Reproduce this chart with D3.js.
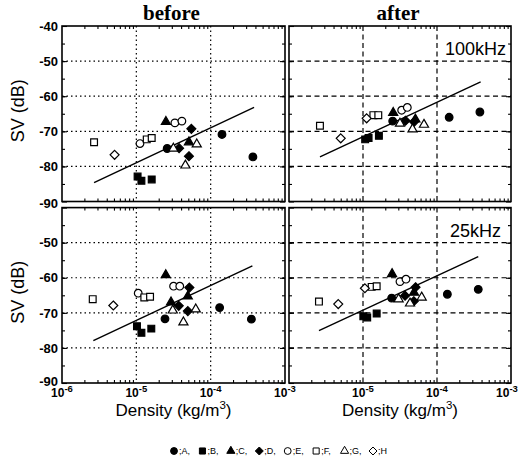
<!DOCTYPE html>
<html>
<head>
<meta charset="utf-8">
<script src="https://cdn.jsdelivr.net/npm/d3@7"></script>
<style>
  body { margin: 0; background: #fff; }
  svg { display: block; }
</style>
</head>
<body>
<svg id="chart"></svg>
<script>
// series names and their markers
const seriesNames = ["A", "B", "C", "D", "E", "F", "G", "H"];
const seriesShapes = ["circle", "square", "triangle", "diamond", "circle", "square", "triangle", "diamond"];
const seriesFilled = [true, true, true, true, false, false, false, false];

// [series, density (kg/m3), SV (dB)]
const before100 = [
    ["A", 2.6e-5, -74.9], ["A", 1.42e-4, -70.9], ["A", 3.7e-4, -77.3],
    ["B", 1.04e-5, -82.9], ["B", 1.17e-5, -84.1], ["B", 1.61e-5, -83.7],
    ["C", 2.5e-5, -67.3], ["C", 5.1e-5, -73.1],
    ["D", 5.5e-5, -69.3], ["D", 3.76e-5, -74.8], ["D", 5.1e-5, -77.1],
    ["E", 1.12e-5, -73.5], ["E", 3.3e-5, -67.6], ["E", 4.1e-5, -67.1],
    ["F", 2.7e-6, -73.1], ["F", 1.38e-5, -72.3], ["F", 1.61e-5, -71.9],
    ["G", 3.15e-5, -74.9], ["G", 6.5e-5, -73.7], ["G", 4.57e-5, -79.7],
    ["H", 5.1e-6, -76.7]
];
const after100 = [
    ["A", 2.52e-5, -67.1], ["A", 1.46e-4, -66.0], ["A", 3.8e-4, -64.5],
    ["B", 1.07e-5, -72.3], ["B", 1.19e-5, -71.9], ["B", 1.64e-5, -71.3],
    ["C", 2.56e-5, -64.7], ["C", 5.1e-5, -66.6],
    ["D", 3.75e-5, -67.0], ["D", 4.9e-5, -67.3],
    ["E", 3.33e-5, -64.0], ["E", 3.97e-5, -63.2],
    ["F", 2.62e-6, -68.4], ["F", 1.38e-5, -65.4], ["F", 1.61e-5, -65.4],
    ["G", 3.16e-5, -67.8], ["G", 4.67e-5, -69.4], ["G", 6.67e-5, -68.1],
    ["H", 5.0e-6, -72.0], ["H", 1.12e-5, -66.3]
];
const before25 = [
    ["A", 2.43e-5, -71.7], ["A", 1.32e-4, -68.5], ["A", 3.53e-4, -71.8],
    ["B", 1.02e-5, -73.8], ["B", 1.17e-5, -75.7], ["B", 1.59e-5, -74.5],
    ["C", 2.49e-5, -59.2], ["C", 2.93e-5, -67.0], ["C", 4.92e-5, -65.3],
    ["D", 5.17e-5, -62.8], ["D", 3.72e-5, -68.0], ["D", 4.93e-5, -69.5],
    ["E", 1.06e-5, -64.4], ["E", 3.17e-5, -62.4], ["E", 3.84e-5, -62.4],
    ["F", 2.59e-6, -66.1], ["F", 1.28e-5, -65.6], ["F", 1.53e-5, -65.4],
    ["G", 3.09e-5, -69.3], ["G", 6.3e-5, -69.0], ["G", 4.3e-5, -72.7],
    ["H", 4.9e-6, -67.9]
];
const after25 = [
    ["A", 2.44e-5, -65.8], ["A", 1.38e-4, -64.7], ["A", 3.61e-4, -63.3],
    ["B", 1.01e-5, -71.0], ["B", 1.14e-5, -71.3], ["B", 1.53e-5, -70.2],
    ["C", 2.47e-5, -58.9], ["C", 4.89e-5, -64.2],
    ["D", 3.7e-5, -65.1], ["D", 5.13e-5, -62.7], ["D", 4.85e-5, -66.7],
    ["E", 3.16e-5, -61.1], ["E", 3.81e-5, -60.4],
    ["F", 2.54e-6, -66.8], ["F", 1.31e-5, -62.6], ["F", 1.53e-5, -62.4],
    ["G", 3.03e-5, -66.1], ["G", 6.21e-5, -65.6], ["G", 4.32e-5, -67.3],
    ["H", 4.63e-6, -67.5], ["H", 1.06e-5, -63.0]
];

// regression lines: two end points each
const fitBefore100 = [[2.7e-6, -84.6], [3.84e-4, -63.2]];
const fitAfter100 = [[2.62e-6, -77.3], [3.89e-4, -55.9]];
const fitBefore25 = [[2.64e-6, -77.9], [3.64e-4, -56.6]];
const fitAfter25 = [[2.54e-6, -75.1], [3.61e-4, -54.0]];

const yTicks = [-40, -50, -60, -70, -80, -90];
const yGrid = [-50, -60, -70, -80];
const xExps = [-6, -5, -4, -3];
const xGrid = [1e-5, 1e-4];
const panelTitles = ["before", "after"];
const freqLabels = ["100kHz", "25kHz"];

const width = 521;
const height = 466;
const cols = [[62, 285], [289, 511]];
const rows = [[26, 201.5], [207.6, 383]];

const svg = d3.select("#chart")
    .attr("width", width)
    .attr("height", height)
    .style("font-family", "'Liberation Sans', Arial, sans-serif");

// square diamond (d3's own diamond is too narrow)
const squareDiamond = {
    draw(context, size) {
        const r = Math.sqrt(size / 2);
        context.moveTo(0, -r);
        context.lineTo(r, 0);
        context.lineTo(0, r);
        context.lineTo(-r, 0);
        context.closePath();
    }
};
const symbolType = {
    circle: d3.symbolCircle,
    square: d3.symbolSquare,
    triangle: d3.symbolTriangle,
    diamond: squareDiamond
};
const symbolSize = { circle: 46, square: 46, triangle: 36, diamond: 40 };

const panels = [
    { data: before100, fit: fitBefore100, col: 0, row: 0 },
    { data: after100, fit: fitAfter100, col: 1, row: 0 },
    { data: before25, fit: fitBefore25, col: 0, row: 1 },
    { data: after25, fit: fitAfter25, col: 1, row: 1 }
];

const minorX = [];
for (let e = -6; e < -3; e++) {
    for (let m = 2; m <= 9; m++) minorX.push(m * Math.pow(10, e));
}
const minorY = d3.range(-85, -40, 5);

panels.forEach(p => {
    const [x0, x1] = cols[p.col];
    const [y0, y1] = rows[p.row];
    const x = d3.scaleLog().domain([1e-6, 1e-3]).range([x0, x1]);
    const y = d3.scaleLinear().domain([-90, -40]).range([y1, y0]);
    const g = svg.append("g");
    const dash = p.col === 0 ? "1.5,3" : "5,3.5";

    // grid
    g.selectAll(".gy").data(yGrid).enter().append("line")
        .attr("x1", x0).attr("x2", x1)
        .attr("y1", d => y(d)).attr("y2", d => y(d))
        .attr("stroke", "#000").attr("stroke-width", 1.2)
        .attr("stroke-dasharray", dash);
    g.selectAll(".gx").data(xGrid).enter().append("line")
        .attr("x1", d => x(d)).attr("x2", d => x(d))
        .attr("y1", y0).attr("y2", y1)
        .attr("stroke", "#000").attr("stroke-width", 1.2)
        .attr("stroke-dasharray", dash);

    // fit line
    g.append("path")
        .datum(p.fit)
        .attr("d", d3.line().x(d => x(d[0])).y(d => y(d[1])))
        .attr("fill", "none").attr("stroke", "#000").attr("stroke-width", 1.4);

    // markers
    g.selectAll(".pt").data(p.data).enter().append("path")
        .attr("transform", d => `translate(${x(d[1])},${y(d[2])})`)
        .attr("d", d => {
            const i = seriesNames.indexOf(d[0]);
            const s = seriesShapes[i];
            return d3.symbol().type(symbolType[s]).size(symbolSize[s])();
        })
        .attr("fill", d => seriesFilled[seriesNames.indexOf(d[0])] ? "#000" : "#fff")
        .attr("stroke", "#000")
        .attr("stroke-width", 1.2);

    // ticks on all four sides, pointing inward
    const tickStyle = sel => {
        sel.select(".domain").remove();
        sel.selectAll("line").attr("stroke", "#000").attr("stroke-width", 1.1);
        sel.selectAll("text").remove();
    };
    g.append("g").attr("transform", `translate(${x0},0)`)
        .call(d3.axisLeft(y).tickValues(yTicks).tickSize(-5)).call(tickStyle);
    g.append("g").attr("transform", `translate(${x0},0)`)
        .call(d3.axisLeft(y).tickValues(minorY).tickSize(-3)).call(tickStyle);
    g.append("g").attr("transform", `translate(${x1},0)`)
        .call(d3.axisRight(y).tickValues(yTicks).tickSize(-5)).call(tickStyle);
    g.append("g").attr("transform", `translate(${x1},0)`)
        .call(d3.axisRight(y).tickValues(minorY).tickSize(-3)).call(tickStyle);
    g.append("g").attr("transform", `translate(0,${y1})`)
        .call(d3.axisBottom(x).tickValues(minorX).tickSize(-3)).call(tickStyle);
    g.append("g").attr("transform", `translate(0,${y0})`)
        .call(d3.axisTop(x).tickValues(minorX).tickSize(-3)).call(tickStyle);

    // frame
    g.append("rect")
        .attr("x", x0).attr("y", y0)
        .attr("width", x1 - x0).attr("height", y1 - y0)
        .attr("fill", "none").attr("stroke", "#000").attr("stroke-width", 1.6);

    // y tick labels on left column
    if (p.col === 0) {
        const labels = p.row === 0 ? yTicks : yTicks.slice(1);
        g.selectAll(".yl").data(labels).enter().append("text")
            .attr("x", x0 - 4)
            .attr("y", d => y(d) + (d === -90 ? (p.row === 0 ? 2 : -2) : 0))
            .attr("dy", "0.36em")
            .attr("text-anchor", "end")
            .attr("font-size", 13).attr("font-weight", "bold")
            .text(d => d);
    }

    // x tick labels on bottom row
    if (p.row === 1) {
        const exps = p.col === 0 ? xExps : xExps.slice(1);
        const t = g.selectAll(".xl").data(exps).enter().append("text")
            .attr("x", d => x(Math.pow(10, d)) - (p.col === 1 && d === -3 ? 4 : 0))
            .attr("y", y1 + 14)
            .attr("text-anchor", "middle")
            .attr("font-size", 12).attr("font-weight", "bold");
        t.append("tspan").text("10");
        t.append("tspan").attr("dy", -5).attr("font-size", 9.5).text(d => "-" + Math.abs(d));

        const lab = g.append("text")
            .attr("x", (x0 + x1) / 2)
            .attr("y", y1 + 33)
            .attr("text-anchor", "middle")
            .attr("font-size", 17);
        lab.append("tspan").text("Density (kg/m");
        lab.append("tspan").attr("dy", -7).attr("font-size", 11.5).text("3");
        lab.append("tspan").attr("dy", 7).text(")");
    }

    // SV label
    if (p.col === 0) {
        g.append("text")
            .attr("transform", `translate(24,${(y0 + y1) / 2 - 3}) rotate(-90)`)
            .attr("text-anchor", "middle")
            .attr("font-size", 18)
            .text("SV (dB)");
    }

    // panel title
    if (p.row === 0) {
        g.append("text")
            .attr("x", (x0 + x1) / 2 - 2)
            .attr("y", 20)
            .attr("text-anchor", "middle")
            .attr("font-family", "'Liberation Serif', 'Times New Roman', serif")
            .attr("font-size", 21)
            .attr("font-weight", 600)
            .text(panelTitles[p.col]);
    }

    // frequency label
    if (p.col === 1) {
        g.append("text")
            .attr("x", x1 - 5 - (p.row === 1 ? 5 : 0))
            .attr("y", y0 + 29)
            .attr("text-anchor", "end")
            .attr("font-size", 18)
            .text(freqLabels[p.row]);
    }
});

// legend
const lx = d3.scalePoint().domain(seriesNames).range([174, 373]);
const legend = svg.append("g").attr("transform", "translate(0,451)");
const item = legend.selectAll(".li").data(seriesNames).enter().append("g")
    .attr("transform", d => `translate(${lx(d)},0)`);
item.append("path")
    .attr("d", (d, i) => d3.symbol().type(symbolType[seriesShapes[i]]).size(symbolSize[seriesShapes[i]] * 0.8)())
    .attr("fill", (d, i) => seriesFilled[i] ? "#000" : "#fff")
    .attr("stroke", "#000").attr("stroke-width", 1);
item.append("text")
    .attr("x", 5)
    .attr("dy", "0.35em")
    .attr("font-size", 9)
    .text((d, i) => ";" + d + (i < seriesNames.length - 1 ? "," : ""));
</script>
</body>
</html>
